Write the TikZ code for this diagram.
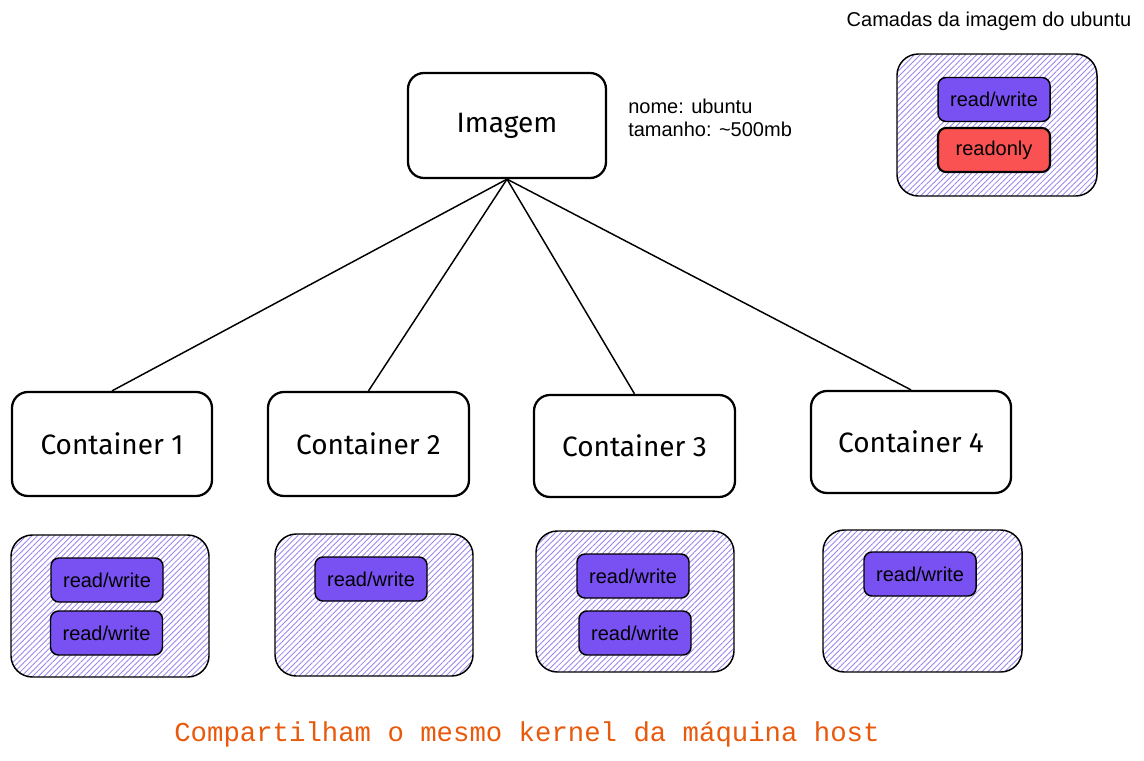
\documentclass[tikz,border=0pt]{standalone}
\usepackage{fontspec}
\setmainfont{Liberation Sans}
\newfontfamily\handfont{Fira Sans}
\newfontfamily\codefont{Liberation Mono}
\usetikzlibrary{patterns.meta}
\definecolor{violetfill}{HTML}{7950F2}
\definecolor{redfill}{HTML}{FA5252}
\definecolor{hatch}{HTML}{9C86EE}
\definecolor{orangetext}{HTML}{E8590C}
\tikzset{
  sketchbox/.style={draw=black, line width=1.7pt, rounded corners=12pt, fill=white,
    font=\handfont\fontsize{21}{23}\selectfont, inner sep=0pt},
  layerbox/.style={draw=black, line width=1.1pt, rounded corners=16pt,
    pattern={Lines[angle=45,distance=3pt,line width=0.65pt]}, pattern color=hatch, inner sep=0pt},
  rwbox/.style={draw=black, line width=1.1pt, rounded corners=6pt, fill=violetfill,
    minimum width=84pt, minimum height=33pt, inner sep=0pt, font=\fontsize{15}{17}\selectfont},
  robox/.style={rwbox, fill=redfill, line width=1.6pt},
  link/.style={draw=black, line width=1.1pt},
  plain/.style={inner sep=0pt, font=\fontsize{15}{17}\selectfont}
}
\begin{document}
\begin{tikzpicture}[x=0.75pt,y=-0.75pt]
\useasboundingbox (0,0) rectangle (1144,760);
% image box
\node[sketchbox, minimum width=148.5pt, minimum height=78.75pt] (img) at (507,125.5) {Imagem};
% containers
\node[sketchbox, minimum width=150pt, minimum height=78pt] (c1) at (112,444) {Container 1};
\node[sketchbox, minimum width=150.75pt, minimum height=78pt] (c2) at (368.5,444) {Container 2};
\node[sketchbox, minimum width=150.75pt, minimum height=76.5pt] (c3) at (634.5,446) {Container 3};
\node[sketchbox, minimum width=150pt, minimum height=76.5pt] (c4) at (911,442) {Container 4};
% connectors
\draw[link] (img.south) -- (c1.north);
\draw[link] (img.south) -- (c2.north);
\draw[link] (img.south) -- (c3.north);
\draw[link] (img.south) -- (c4.north);
% info text
\node[plain, anchor=north west, align=left] (info) at (628,99) {nome: ubuntu\\tamanho: \textasciitilde500mb};
% layer groups
\node[layerbox, minimum width=148.5pt, minimum height=106.5pt] (l1) at (110,606) {};
\node[layerbox, minimum width=148.5pt, minimum height=106.5pt] (l2) at (374,605) {};
\node[layerbox, minimum width=148.5pt, minimum height=105.75pt] (l3) at (635,601.5) {};
\node[layerbox, minimum width=149.25pt, minimum height=106.5pt] (l4) at (922.5,601) {};
\node[layerbox, minimum width=150pt, minimum height=106.5pt] (lt) at (997,125) {};
% layers
\node[rwbox] (r11) at (107,580) {read/write};
\node[rwbox] (r12) at (106.5,633) {read/write};
\node[rwbox] (r21) at (371,579) {read/write};
\node[rwbox] (r31) at (633,576) {read/write};
\node[rwbox] (r32) at (635,633) {read/write};
\node[rwbox] (r41) at (920,574) {read/write};
\node[rwbox] (rt1) at (994,99.5) {read/write};
\node[robox] (rt2) at (994,150) {readonly};
% titles
\node[plain] (title) at (989,21) {Camadas da imagem do ubuntu};
\node[inner sep=0pt, text=orangetext, font=\codefont\fontsize{20.5}{22}\selectfont] (kernel) at (527,734) {Compartilham o mesmo kernel da máquina host};
\end{tikzpicture}
\end{document}
